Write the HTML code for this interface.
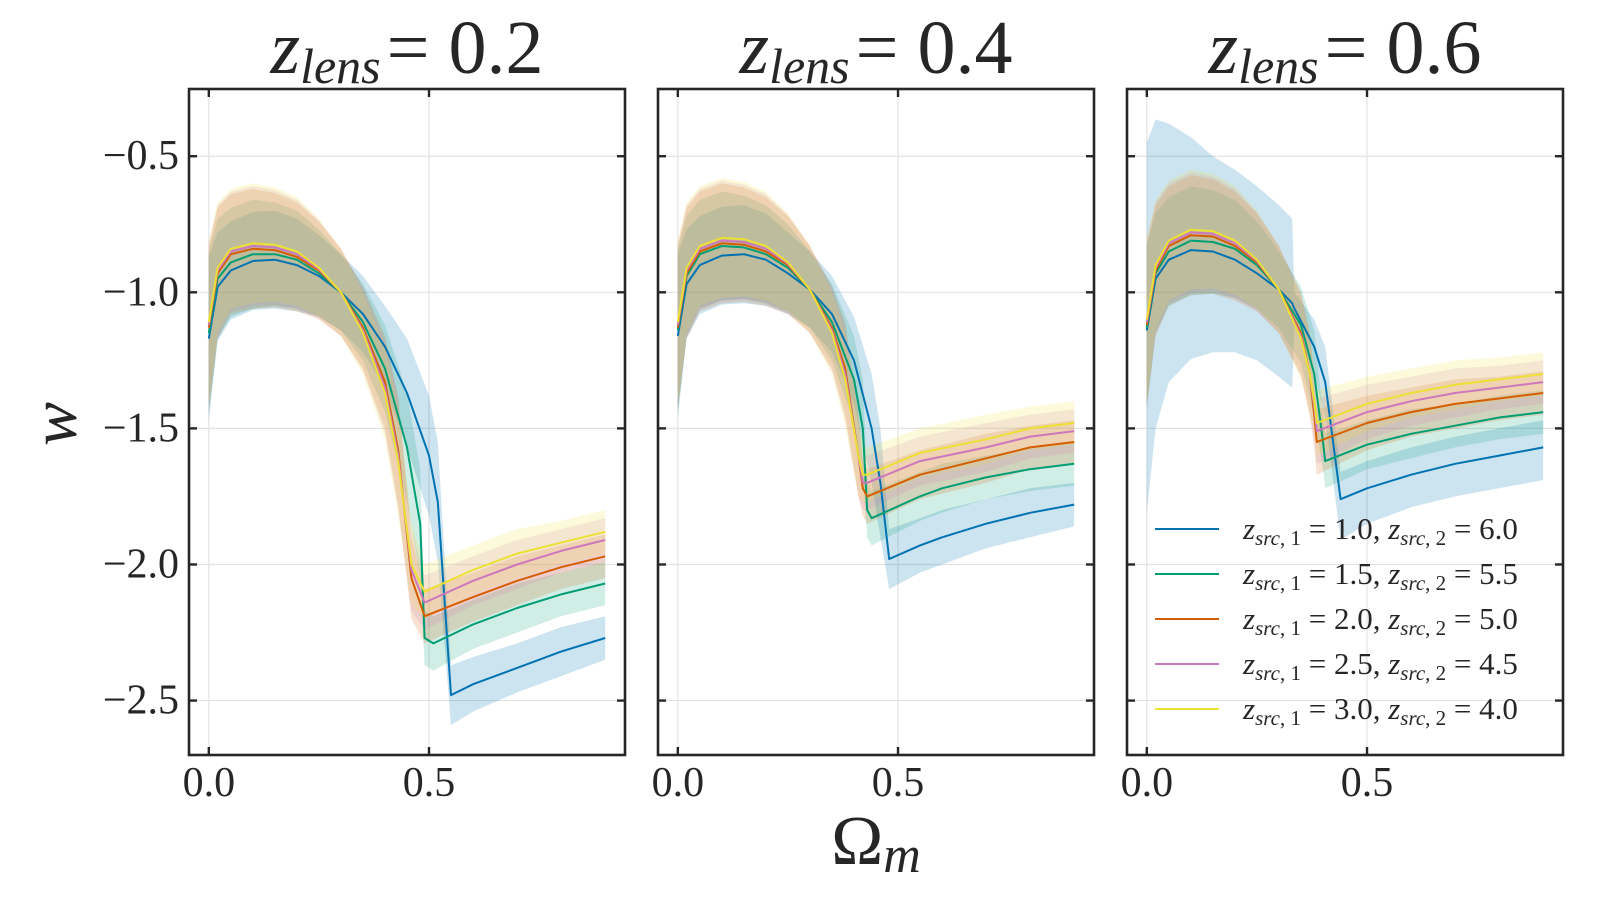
<!DOCTYPE html>
<html><head><meta charset="utf-8"><style>
html,body{margin:0;padding:0;background:#fff;}
svg{display:block;font-family:"Liberation Serif",serif;}
</style></head><body>
<svg id="chart" width="1620" height="900" viewBox="0 0 1620 900" xmlns="http://www.w3.org/2000/svg"></svg>
<script>
// ---- data ----
const panelTitles = ["0.2", "0.4", "0.6"];
const seriesLabels = [["1.0","6.0"],["1.5","5.5"],["2.0","5.0"],["2.5","4.5"],["3.0","4.0"]];
const seriesColors = ["#0173b2","#029e73","#d55e00","#cc78bc","#ece133"];
const yTicks = [-0.5,-1.0,-1.5,-2.0,-2.5];
const yTickLabels = ["\u22120.5","\u22121.0","\u22121.5","\u22122.0","\u22122.5"];
const xTicks = [0.0,0.5];
const xTickLabels = ["0.0","0.5"];

// Panel 1 (z_lens = 0.2)
const p1BlueX = [0,0.02,0.05,0.1,0.15,0.2,0.25,0.3,0.35,0.4,0.45,0.5,0.52,0.55,0.6,0.7,0.8,0.9];
const p1BlueY = [-1.17,-0.98,-0.92,-0.885,-0.88,-0.9,-0.94,-1.0,-1.08,-1.2,-1.37,-1.6,-1.77,-2.48,-2.44,-2.38,-2.32,-2.27];
const p1BlueW = [0.3,0.2,0.18,0.18,0.18,0.17,0.15,0.14,0.14,0.15,0.2,0.22,0.22,0.11,0.1,0.09,0.09,0.08];
const p1GreenX = [0,0.02,0.05,0.1,0.15,0.2,0.25,0.3,0.35,0.4,0.45,0.48,0.49,0.51,0.6,0.7,0.8,0.9];
const p1GreenY = [-1.15,-0.95,-0.89,-0.86,-0.86,-0.88,-0.93,-1.0,-1.11,-1.28,-1.57,-1.85,-2.27,-2.29,-2.22,-2.16,-2.11,-2.07];
const p1GreenW = [0.3,0.22,0.2,0.2,0.19,0.18,0.16,0.14,0.14,0.16,0.2,0.2,0.1,0.1,0.09,0.09,0.08,0.08];
const p1LateX = [0,0.02,0.05,0.1,0.15,0.2,0.25,0.3,0.35,0.4,0.43,0.46,0.49,0.6,0.7,0.8,0.9];
const p1OrangeY = [-1.13,-0.93,-0.86,-0.84,-0.845,-0.87,-0.92,-1.0,-1.13,-1.33,-1.58,-2.05,-2.19,-2.12,-2.06,-2.01,-1.97];
const p1PinkY = [-1.12,-0.92,-0.85,-0.83,-0.835,-0.86,-0.915,-1.0,-1.14,-1.35,-1.6,-2.02,-2.14,-2.06,-2.0,-1.95,-1.91];
const p1YellowY = [-1.11,-0.91,-0.84,-0.82,-0.825,-0.85,-0.91,-1.0,-1.15,-1.37,-1.62,-2.0,-2.10,-2.02,-1.96,-1.92,-1.88];
const p1LateW = [0.3,0.24,0.22,0.22,0.21,0.2,0.18,0.16,0.15,0.17,0.2,0.15,0.1,0.09,0.09,0.08,0.08];

// Panel 2 (z_lens = 0.4)
const p2BlueX = [0,0.02,0.05,0.1,0.15,0.2,0.25,0.3,0.35,0.4,0.44,0.46,0.48,0.55,0.6,0.7,0.8,0.9];
const p2BlueY = [-1.16,-0.97,-0.9,-0.865,-0.86,-0.88,-0.93,-0.99,-1.08,-1.25,-1.5,-1.7,-1.98,-1.93,-1.9,-1.85,-1.81,-1.78];
const p2BlueW = [0.3,0.2,0.18,0.18,0.18,0.17,0.15,0.14,0.14,0.16,0.2,0.2,0.11,0.1,0.1,0.09,0.09,0.08];
const p2GreenX = [0,0.02,0.05,0.1,0.15,0.2,0.25,0.3,0.35,0.4,0.42,0.43,0.44,0.55,0.6,0.7,0.8,0.9];
const p2GreenY = [-1.14,-0.94,-0.86,-0.83,-0.835,-0.86,-0.91,-0.99,-1.11,-1.32,-1.5,-1.8,-1.83,-1.75,-1.72,-1.68,-1.65,-1.63];
const p2GreenW = [0.3,0.22,0.2,0.2,0.19,0.18,0.16,0.14,0.14,0.16,0.18,0.1,0.1,0.09,0.09,0.08,0.08,0.08];
const p2LateX = [0,0.02,0.05,0.1,0.15,0.2,0.25,0.3,0.35,0.38,0.41,0.42,0.43,0.55,0.7,0.8,0.9];
const p2OrangeY = [-1.13,-0.93,-0.85,-0.82,-0.825,-0.85,-0.9,-0.99,-1.13,-1.28,-1.6,-1.72,-1.75,-1.67,-1.61,-1.57,-1.55];
const p2PinkY = [-1.12,-0.92,-0.84,-0.81,-0.815,-0.84,-0.895,-0.99,-1.14,-1.3,-1.6,-1.7,-1.70,-1.62,-1.57,-1.53,-1.51];
const p2YellowY = [-1.11,-0.91,-0.83,-0.80,-0.805,-0.83,-0.89,-0.99,-1.15,-1.32,-1.6,-1.67,-1.67,-1.59,-1.54,-1.5,-1.48];
const p2LateW = [0.3,0.24,0.22,0.22,0.21,0.2,0.18,0.16,0.15,0.17,0.15,0.1,0.1,0.09,0.09,0.08,0.08];

// Panel 3 (z_lens = 0.6)
const p3BlueX = [0,0.02,0.05,0.1,0.15,0.2,0.25,0.3,0.33,0.335,0.38,0.405,0.44,0.5,0.6,0.7,0.8,0.9];
const p3BlueY = [-1.14,-0.95,-0.88,-0.845,-0.85,-0.88,-0.93,-0.99,-1.04,-1.06,-1.2,-1.33,-1.76,-1.72,-1.67,-1.63,-1.6,-1.57];
const p3BlueWHi = [0.69,0.585,0.5,0.415,0.35,0.33,0.32,0.31,0.31,0.06,0.1,0.13,0.1,0.1,0.1,0.1,0.1,0.1];
const p3BlueWLo = [0.67,0.55,0.45,0.4,0.37,0.34,0.32,0.32,0.31,0.06,0.1,0.13,0.15,0.13,0.12,0.12,0.12,0.12];
const p3GreenX = [0,0.02,0.05,0.1,0.15,0.2,0.25,0.3,0.35,0.38,0.4,0.405,0.5,0.6,0.7,0.8,0.9];
const p3GreenY = [-1.13,-0.93,-0.85,-0.81,-0.815,-0.84,-0.9,-0.99,-1.12,-1.3,-1.55,-1.62,-1.56,-1.52,-1.49,-1.46,-1.44];
const p3GreenW = [0.3,0.22,0.2,0.2,0.19,0.18,0.16,0.14,0.14,0.16,0.1,0.1,0.09,0.09,0.08,0.08,0.08];
const p3LateX = [0,0.02,0.05,0.1,0.15,0.2,0.25,0.3,0.35,0.37,0.38,0.386,0.5,0.6,0.7,0.8,0.9];
const p3OrangeY = [-1.12,-0.92,-0.83,-0.79,-0.795,-0.83,-0.89,-0.99,-1.15,-1.3,-1.45,-1.55,-1.48,-1.44,-1.41,-1.39,-1.37];
const p3PinkY = [-1.11,-0.91,-0.82,-0.78,-0.785,-0.82,-0.885,-0.99,-1.16,-1.3,-1.42,-1.51,-1.44,-1.40,-1.37,-1.35,-1.33];
const p3YellowY = [-1.10,-0.90,-0.81,-0.77,-0.775,-0.81,-0.88,-0.99,-1.17,-1.3,-1.4,-1.48,-1.41,-1.37,-1.34,-1.32,-1.30];
const p3LateW = [0.3,0.24,0.22,0.22,0.21,0.2,0.18,0.16,0.15,0.15,0.12,0.12,0.1,0.09,0.09,0.08,0.08];

const panels = [
  [ {x:p1BlueX,y:p1BlueY,wl:p1BlueW,wh:p1BlueW},{x:p1GreenX,y:p1GreenY,wl:p1GreenW,wh:p1GreenW},
    {x:p1LateX,y:p1OrangeY,wl:p1LateW,wh:p1LateW},{x:p1LateX,y:p1PinkY,wl:p1LateW,wh:p1LateW},{x:p1LateX,y:p1YellowY,wl:p1LateW,wh:p1LateW} ],
  [ {x:p2BlueX,y:p2BlueY,wl:p2BlueW,wh:p2BlueW},{x:p2GreenX,y:p2GreenY,wl:p2GreenW,wh:p2GreenW},
    {x:p2LateX,y:p2OrangeY,wl:p2LateW,wh:p2LateW},{x:p2LateX,y:p2PinkY,wl:p2LateW,wh:p2LateW},{x:p2LateX,y:p2YellowY,wl:p2LateW,wh:p2LateW} ],
  [ {x:p3BlueX,y:p3BlueY,wl:p3BlueWLo,wh:p3BlueWHi},{x:p3GreenX,y:p3GreenY,wl:p3GreenW,wh:p3GreenW},
    {x:p3LateX,y:p3OrangeY,wl:p3LateW,wh:p3LateW},{x:p3LateX,y:p3PinkY,wl:p3LateW,wh:p3LateW},{x:p3LateX,y:p3YellowY,wl:p3LateW,wh:p3LateW} ]
];

// ---- layout ----
const NS = "http://www.w3.org/2000/svg";
const svg = document.getElementById("chart");
const panelLeft = [189, 658, 1127], panelW = 436, panelTop = 89, panelBottom = 755;
const xMin = -0.045, xMax = 0.945, yMin = -2.70, yMax = -0.253;
function mk(tag, attrs, parent){ const e=document.createElementNS(NS,tag); for(const k in attrs) e.setAttribute(k,attrs[k]); (parent||svg).appendChild(e); return e; }

panels.forEach((series, pi) => {
  const L = panelLeft[pi];
  const sx = v => L + (v - xMin) / (xMax - xMin) * panelW;
  const sy = v => panelTop + (yMax - v) / (yMax - yMin) * (panelBottom - panelTop);
  const g = mk("g", {});
  
  
  const clipId = "clip" + pi;
  const cp = mk("clipPath", {id: clipId}, g);
  mk("rect", {x:L, y:panelTop, width:panelW, height:panelBottom-panelTop}, cp);
  yTicks.forEach(t => { const l = mk("line", {x1:L, x2:L+panelW, y1:sy(t), y2:sy(t), stroke:"#e3e3e3", "stroke-width":1.2}, g);
      });
  xTicks.forEach(t => { const l = mk("line", {x1:sx(t), x2:sx(t), y1:panelTop, y2:panelBottom, stroke:"#e3e3e3", "stroke-width":1.2}, g);
      });
  const plot = mk("g", {"clip-path": "url(#"+clipId+")"}, g);
  series.forEach((s, si) => {
    let d = "";
    s.x.forEach((xv, i) => { d += (i ? "L" : "M") + sx(xv).toFixed(1) + "," + sy(s.y[i] + s.wh[i]).toFixed(1); });
    for (let i = s.x.length - 1; i >= 0; i--) d += "L" + sx(s.x[i]).toFixed(1) + "," + sy(s.y[i] - s.wl[i]).toFixed(1);
    const p = mk("path", {d: d + "Z", fill: seriesColors[si], "fill-opacity": si === 0 ? 0.2 : 0.18, stroke: "none", "stroke-linejoin":"round"}, plot);
    
    
  });
  series.forEach((s, si) => {
    const pts = s.x.map((xv, i) => sx(xv).toFixed(1) + "," + sy(s.y[i]).toFixed(1)).join(" ");
    const p = mk("polyline", {points: pts, fill: "none", stroke: seriesColors[si], "stroke-width": 2, "stroke-linejoin":"round"}, plot);
    
    
  });
  const fr = mk("rect", {x:L, y:panelTop, width:panelW, height:panelBottom-panelTop, fill:"none", stroke:"#262626", "stroke-width":2.6}, g);
   
  yTicks.forEach((t, i) => {
    mk("line", {x1:L, x2:L+8, y1:sy(t), y2:sy(t), stroke:"#262626", "stroke-width":2.4}, g);
    mk("line", {x1:L+panelW-8, x2:L+panelW, y1:sy(t), y2:sy(t), stroke:"#262626", "stroke-width":2.4}, g);
    if (pi === 0) {
      const tx = mk("text", {x:L-10, y:sy(t)+13, "text-anchor":"end", "font-size":42, fill:"#262626"}, g);
      tx.textContent = yTickLabels[i];
       
    }
  });
  xTicks.forEach((t, i) => {
    mk("line", {x1:sx(t), x2:sx(t), y1:panelBottom-8, y2:panelBottom, stroke:"#262626", "stroke-width":2.4}, g);
    mk("line", {x1:sx(t), x2:sx(t), y1:panelTop, y2:panelTop+8, stroke:"#262626", "stroke-width":2.4}, g);
    const tx = mk("text", {x:sx(t), y:796, "text-anchor":"middle", "font-size":42, fill:"#262626"}, g);
    tx.textContent = xTickLabels[i];
     
  });
  const tt = mk("text", {x:L+panelW/2, y:73, "text-anchor":"middle", "font-size":76, fill:"#262626"}, g);
   
  tt.innerHTML = '<tspan font-style="italic">z</tspan><tspan font-style="italic" font-size="50" dy="10">lens</tspan><tspan dy="-10" dx="6">= ' + panelTitles[pi] + '</tspan>';
});

const lg = mk("g", {});
 
const legRows = [529, 574, 619, 664, 709];
seriesLabels.forEach((lab, i) => {
  const y = legRows[i];
  const e = mk("g", {}, lg);
   
  mk("line", {x1:1155, x2:1219, y1:y, y2:y, stroke:seriesColors[i], "stroke-width":2}, e);
  const t = mk("text", {x:1243, y:y+10, "font-size":31, fill:"#262626"}, e);
  t.innerHTML = '<tspan font-style="italic">z</tspan><tspan font-style="italic" font-size="21" dy="6">src</tspan><tspan font-size="21" dy="0">, 1</tspan><tspan dy="-6"> = ' + lab[0] + ', </tspan><tspan font-style="italic">z</tspan><tspan font-style="italic" font-size="21" dy="6">src</tspan><tspan font-size="21">, 2</tspan><tspan dy="-6"> = ' + lab[1] + '</tspan>';
});

const yl = mk("text", {x:0, y:0, "font-size":66, "font-style":"italic", fill:"#262626", "text-anchor":"middle", transform:"translate(76,424) rotate(-90)"});
yl.textContent = "w";
 
const xl = mk("text", {x:876, y:864, "font-size":70, fill:"#262626", "text-anchor":"middle"});
xl.innerHTML = 'Ω<tspan font-style="italic" font-size="52" dy="8">m</tspan>';
 
</script>
</body></html>
